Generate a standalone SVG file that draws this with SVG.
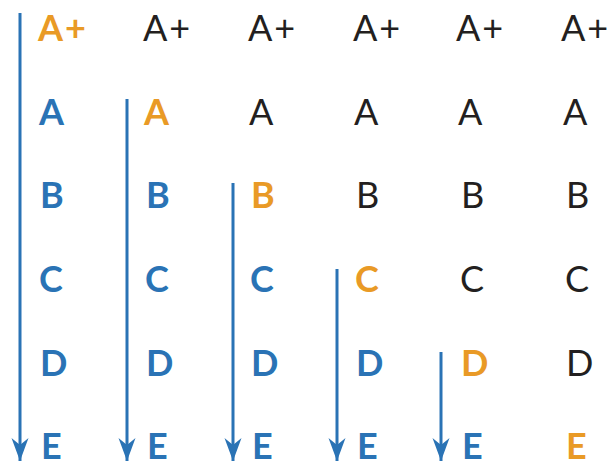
<svg xmlns="http://www.w3.org/2000/svg" width="615" height="463" viewBox="0 0 615 463">
<style>
text{font-family:Lato,"Open Sans","Liberation Sans",sans-serif;font-size:36px}
.b{fill:#2a73b5;font-weight:700}
.o{fill:#e99a26;font-weight:700}
.k{fill:#231f20;font-weight:400}
.ar{stroke:#2a73b5;stroke-width:3;fill:none;marker-end:url(#ah)}
</style>
<defs>
<marker id="ah" markerUnits="userSpaceOnUse" viewBox="0 -9 24 18" refX="23" refY="0" markerWidth="24" markerHeight="18" orient="auto">
<path d="M0,-8.5 L23,0 L0,8.5 L7,0 Z" fill="#2a73b5"/>
</marker>
</defs>
<g id="connectors">
<line class="ar" x1="20" y1="13" x2="20" y2="461"/>
<line class="ar" x1="127" y1="99" x2="127" y2="461"/>
<line class="ar" x1="233" y1="183" x2="233" y2="461"/>
<line class="ar" x1="337" y1="269" x2="337" y2="461"/>
<line class="ar" x1="441" y1="352" x2="441" y2="461"/>
</g>
<g id="col1">
<text class="o" x="38" y="41" letter-spacing="2">A+</text>
<text class="b" x="39" y="125">A</text>
<text class="b" x="40" y="208">B</text>
<text class="b" x="39" y="292">C</text>
<text class="b" x="40" y="376">D</text>
<text class="b" x="41" y="459">E</text>
</g>
<g id="col2">
<text class="k" x="143" y="41" letter-spacing="2">A+</text>
<text class="o" x="144" y="125">A</text>
<text class="b" x="146" y="208">B</text>
<text class="b" x="145" y="292">C</text>
<text class="b" x="146" y="376">D</text>
<text class="b" x="147" y="459">E</text>
</g>
<g id="col3">
<text class="k" x="248" y="41" letter-spacing="2">A+</text>
<text class="k" x="249" y="125">A</text>
<text class="o" x="251" y="208">B</text>
<text class="b" x="250" y="292">C</text>
<text class="b" x="251" y="376">D</text>
<text class="b" x="252" y="459">E</text>
</g>
<g id="col4">
<text class="k" x="353" y="41" letter-spacing="2">A+</text>
<text class="k" x="354" y="125">A</text>
<text class="k" x="356" y="208">B</text>
<text class="o" x="355" y="292">C</text>
<text class="b" x="356" y="376">D</text>
<text class="b" x="357" y="459">E</text>
</g>
<g id="col5">
<text class="k" x="456" y="41" letter-spacing="2">A+</text>
<text class="k" x="458" y="125">A</text>
<text class="k" x="461" y="208">B</text>
<text class="k" x="460" y="292">C</text>
<text class="o" x="461" y="376">D</text>
<text class="b" x="462" y="459">E</text>
</g>
<g id="col6">
<text class="k" x="561" y="41" letter-spacing="2">A+</text>
<text class="k" x="563" y="125">A</text>
<text class="k" x="566" y="208">B</text>
<text class="k" x="565" y="292">C</text>
<text class="k" x="566" y="376">D</text>
<text class="o" x="566" y="459">E</text>
</g>
</svg>
